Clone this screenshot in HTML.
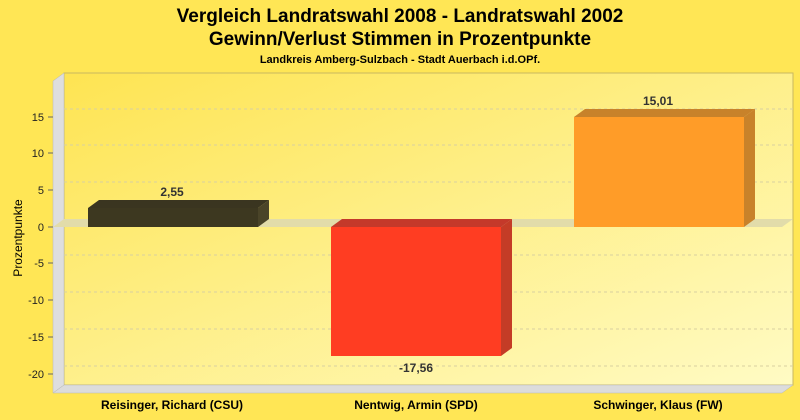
<!DOCTYPE html>
<html><head><meta charset="utf-8"><style>body{margin:0;background:#ffe655}svg{display:block;font-family:"Liberation Sans",sans-serif}</style></head><body>
<svg width="800" height="420" viewBox="0 0 800 420">
<defs><linearGradient id="bg" x1="0" y1="0" x2="1" y2="1"><stop offset="0" stop-color="#fee452"/><stop offset="1" stop-color="#fffbc4"/></linearGradient></defs>
<rect width="800" height="420" fill="#ffe655"/>
<text x="400" y="22" font-size="19" font-weight="bold" text-anchor="middle">Vergleich Landratswahl 2008 - Landratswahl 2002</text>
<text x="400" y="45" font-size="19" font-weight="bold" text-anchor="middle">Gewinn/Verlust Stimmen in Prozentpunkte</text>
<text x="400" y="63" font-size="11" font-weight="bold" text-anchor="middle">Landkreis Amberg-Sulzbach - Stadt Auerbach i.d.OPf.</text>
<rect x="64" y="73" width="729" height="312" fill="url(#bg)" stroke="#c8b860" stroke-width="1"/>
<polygon points="53,81 64,73 64,385 53,393" fill="#dedede" stroke="#b8b8b8" stroke-width="0.5"/>
<polygon points="53,393 64,385 793,385 782,393" fill="#dcdcdc" stroke="#b8b8b8" stroke-width="0.5"/>
<g stroke="#d8d0a0" stroke-dasharray="3,3" stroke-width="1">
<line x1="64" y1="109" x2="793" y2="109"/><line x1="64" y1="145" x2="793" y2="145"/><line x1="64" y1="182" x2="793" y2="182"/><line x1="64" y1="255" x2="793" y2="255"/><line x1="64" y1="292" x2="793" y2="292"/><line x1="64" y1="329" x2="793" y2="329"/><line x1="64" y1="366" x2="793" y2="366"/>
</g>
<polygon points="53,227 64,219 793,219 782,227" fill="#e2dcaa"/>
<g font-size="11" text-anchor="end" fill="#222">
<text x="44" y="121">15</text><text x="44" y="157">10</text><text x="44" y="194">5</text><text x="44" y="231">0</text><text x="44" y="267">-5</text><text x="44" y="304">-10</text><text x="44" y="341">-15</text><text x="44" y="378">-20</text>
</g>
<g stroke="#666"><line x1="48" y1="117" x2="53" y2="117"/><line x1="48" y1="153" x2="53" y2="153"/><line x1="48" y1="190" x2="53" y2="190"/><line x1="48" y1="227" x2="53" y2="227"/><line x1="48" y1="263" x2="53" y2="263"/><line x1="48" y1="300" x2="53" y2="300"/><line x1="48" y1="337" x2="53" y2="337"/><line x1="48" y1="374" x2="53" y2="374"/></g>
<text transform="translate(22,238) rotate(-90)" font-size="12" text-anchor="middle">Prozentpunkte</text>
<!-- bar1 -->
<polygon points="88,208 99,200 269,200 258,208" fill="#3a3520"/>
<polygon points="258,208 269,200 269,219 258,227" fill="#4a4428"/>
<rect x="88" y="208" width="170" height="19" fill="#3d3820"/>
<!-- bar2 -->
<polygon points="331,227 342,219 512,219 501,227" fill="#c4392a"/>
<polygon points="501,227 512,219 512,348 501,356" fill="#c43c26"/>
<rect x="331" y="227" width="170" height="129" fill="#ff3d22"/>
<!-- bar3 -->
<polygon points="574,117 585,109 755,109 744,117" fill="#c8822a"/>
<polygon points="744,117 755,109 755,219 744,227" fill="#c8822a"/>
<rect x="574" y="117" width="170" height="110" fill="#ff9c28"/>
<g font-size="12" font-weight="bold" fill="#333" text-anchor="middle">
<text x="172" y="196">2,55</text><text x="416" y="372">-17,56</text><text x="658" y="105">15,01</text>
</g>
<g font-size="12" font-weight="bold" text-anchor="middle">
<text x="172" y="409">Reisinger, Richard (CSU)</text><text x="416" y="409">Nentwig, Armin (SPD)</text><text x="658" y="409">Schwinger, Klaus (FW)</text>
</g>
</svg>
</body></html>
